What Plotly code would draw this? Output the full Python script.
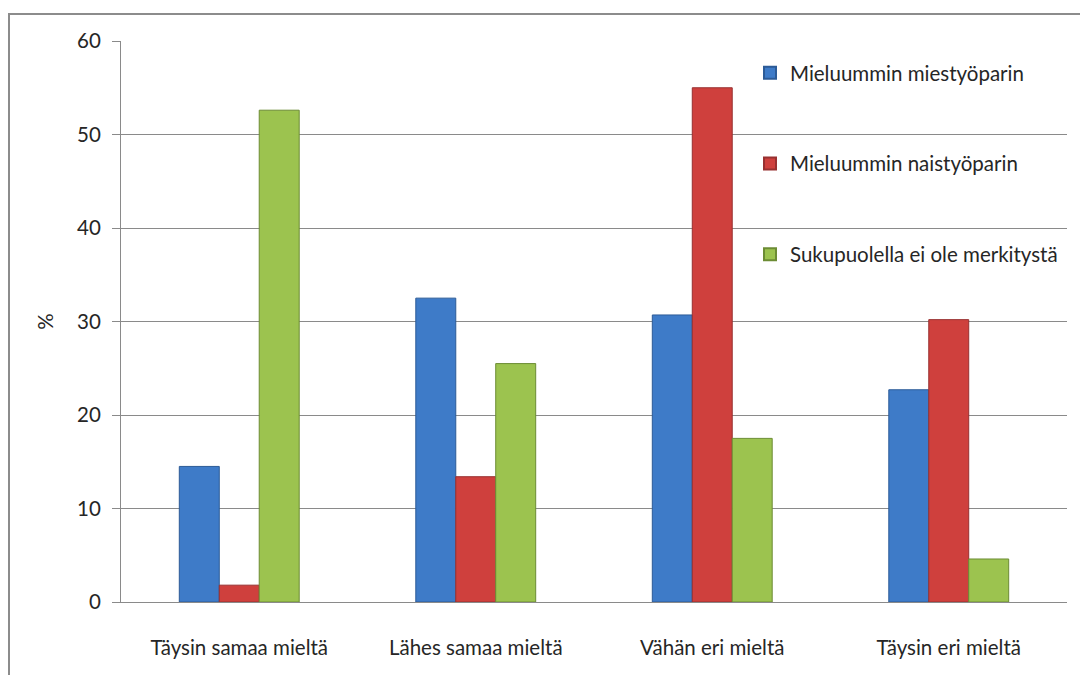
import plotly.graph_objects as go

# Survey answers per preference group (%)
categories = ["Täysin samaa mieltä", "Lähes samaa mieltä", "Vähän eri mieltä", "Täysin eri mieltä"]
series_names = ["Mieluummin miestyöparin", "Mieluummin naistyöparin", "Sukupuolella ei ole merkitystä"]
values_men = [14.5, 32.5, 30.7, 22.7]
values_women = [1.8, 13.4, 55.0, 30.2]
values_any = [52.6, 25.5, 17.5, 4.6]
y_ticks = [0, 10, 20, 30, 40, 50, 60]

series_values = [values_men, values_women, values_any]
fills = ["#3e7bc8", "#cf403d", "#9cc34f"]
edges = ["#2c5b97", "#983030", "#6c8c34"]

W, H = 1080, 675
ML, MR, MT, MB = 121, 13, 41, 73
plot_w = W - ML - MR
plot_h = H - MT - MB


def px_x(px):
    return (px - ML) / plot_w


def px_y(py):
    return (H - MB - py) / plot_h


FONT = "Lato, 'Open Sans', sans-serif"
FS = 20.5
TEXT = "#262626"
GRID = "#8a8a8a"

fig = go.Figure()
for name, vals, fc, ec in zip(series_names, series_values, fills, edges):
    fig.add_trace(go.Bar(
        name=name,
        x=categories,
        y=vals,
        legendgroup=name,
        marker=dict(color=fc, line=dict(color=ec, width=1)),
        hoverinfo="x+y+name",
    ))

fig.update_layout(
    width=W,
    height=H,
    margin=dict(l=ML, r=MR, t=MT, b=MB),
    paper_bgcolor="white",
    plot_bgcolor="white",
    barmode="group",
    bargap=0.493,
    bargroupgap=0,
    font=dict(family=FONT, size=FS, color=TEXT),
    showlegend=True,
    legend=dict(
        x=px_x(750), xanchor="left",
        y=px_y(53), yanchor="top",
        bgcolor="rgba(0,0,0,0)",
        traceorder="grouped",
        tracegroupgap=61,
        font=dict(family=FONT, size=FS, color=TEXT),
        itemsizing="constant",
    ),
    xaxis=dict(
        showline=True, linecolor=GRID, linewidth=1,
        ticks="", showgrid=False,
        ticklabelstandoff=27,
        tickfont=dict(family=FONT, size=FS, color=TEXT),
    ),
    yaxis=dict(
        range=[0, 60],
        tickvals=y_ticks,
        showline=True, linecolor=GRID, linewidth=1,
        showgrid=True, gridcolor=GRID, gridwidth=1,
        ticks="outside", ticklen=8, tickcolor=GRID,
        ticklabelstandoff=7,
        tickfont=dict(family=FONT, size=FS, color=TEXT),
        title=dict(text="%", standoff=17, font=dict(family=FONT, size=FS, color=TEXT)),
        zeroline=False,
    ),
    shapes=[
        # white panel behind the legend, above the gridlines
        dict(type="rect", xref="paper", yref="paper", layer="between",
             x0=px_x(742), x1=1.02, y0=px_y(285), y1=px_y(36),
             fillcolor="white", line=dict(width=0)),
        # chart frame
        dict(type="rect", xref="paper", yref="paper", layer="below",
             x0=px_x(9), x1=px_x(1100), y0=px_y(700), y1=px_y(14),
             fillcolor="rgba(0,0,0,0)", line=dict(color="#8c8c8c", width=2)),
    ],
)

fig.write_html("out.html")
